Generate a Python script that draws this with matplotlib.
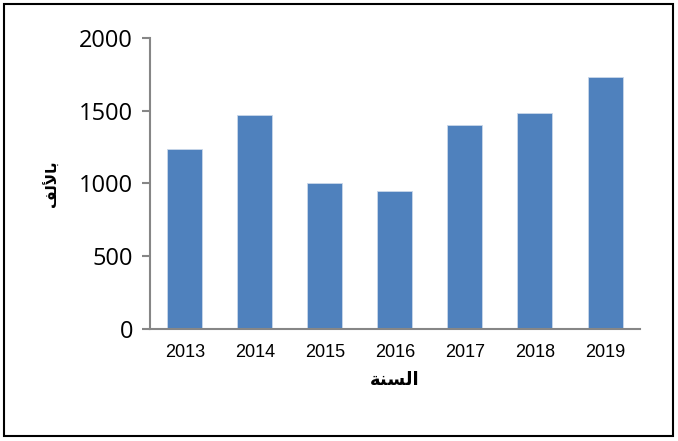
import matplotlib
matplotlib.use("Agg")
import matplotlib.pyplot as plt
from matplotlib.patches import Rectangle

years = ["2013", "2014", "2015", "2016", "2017", "2018", "2019"]
values = [1235, 1470, 1000, 948, 1400, 1482, 1729]
yticks = [0, 500, 1000, 1500, 2000]

# Arabic labels written in shaped presentation forms, visual order
xlabel_text = "\ufe94\ufee8\ufeb4\ufedf\ufe8d"          # السنة
ylabel_text = "\ufed2\ufedf\ufef7\ufe8e\ufe91"          # بالألف

plt.rcParams['font.family'] = ['Liberation Sans', 'DejaVu Sans']

fig = plt.figure(figsize=(6.78, 4.41), dpi=100)
ax = fig.add_axes([0.221, 0.254, 0.723, 0.66])

ax.bar(range(len(years)), values, width=0.5, color="#4F81BD",
       edgecolor="#C9D7EA", linewidth=0.6)

ax.set_xlim(-0.5, len(years) - 0.5)
ax.set_ylim(0, 2000)
ax.set_yticks(yticks)
ax.set_yticklabels([str(v) for v in yticks], fontsize=17,
                   family=['Open Sans', 'DejaVu Sans'])
ax.set_xticks(range(len(years)))
ax.set_xticklabels(years, fontsize=13)

for side in ["top", "right"]:
    ax.spines[side].set_visible(False)
for side in ["left", "bottom"]:
    ax.spines[side].set_color("#868686")
    ax.spines[side].set_linewidth(1.5)
ax.tick_params(axis="y", direction="out", length=6, width=1.5,
               color="#868686", pad=6)
ax.tick_params(axis="x", length=0, pad=11)

ax.set_xlabel(xlabel_text, fontsize=13, fontweight="bold",
              family=['DejaVu Sans'], labelpad=7)
ax.set_ylabel(ylabel_text, fontsize=11, fontweight="bold",
              family=['DejaVu Sans'], labelpad=14)

fig.patches.append(Rectangle((0.006, 0.011), 0.986, 0.98, transform=fig.transFigure,
                             fill=False, edgecolor="black", linewidth=1.5))

fig.savefig("out.png", dpi=100)
